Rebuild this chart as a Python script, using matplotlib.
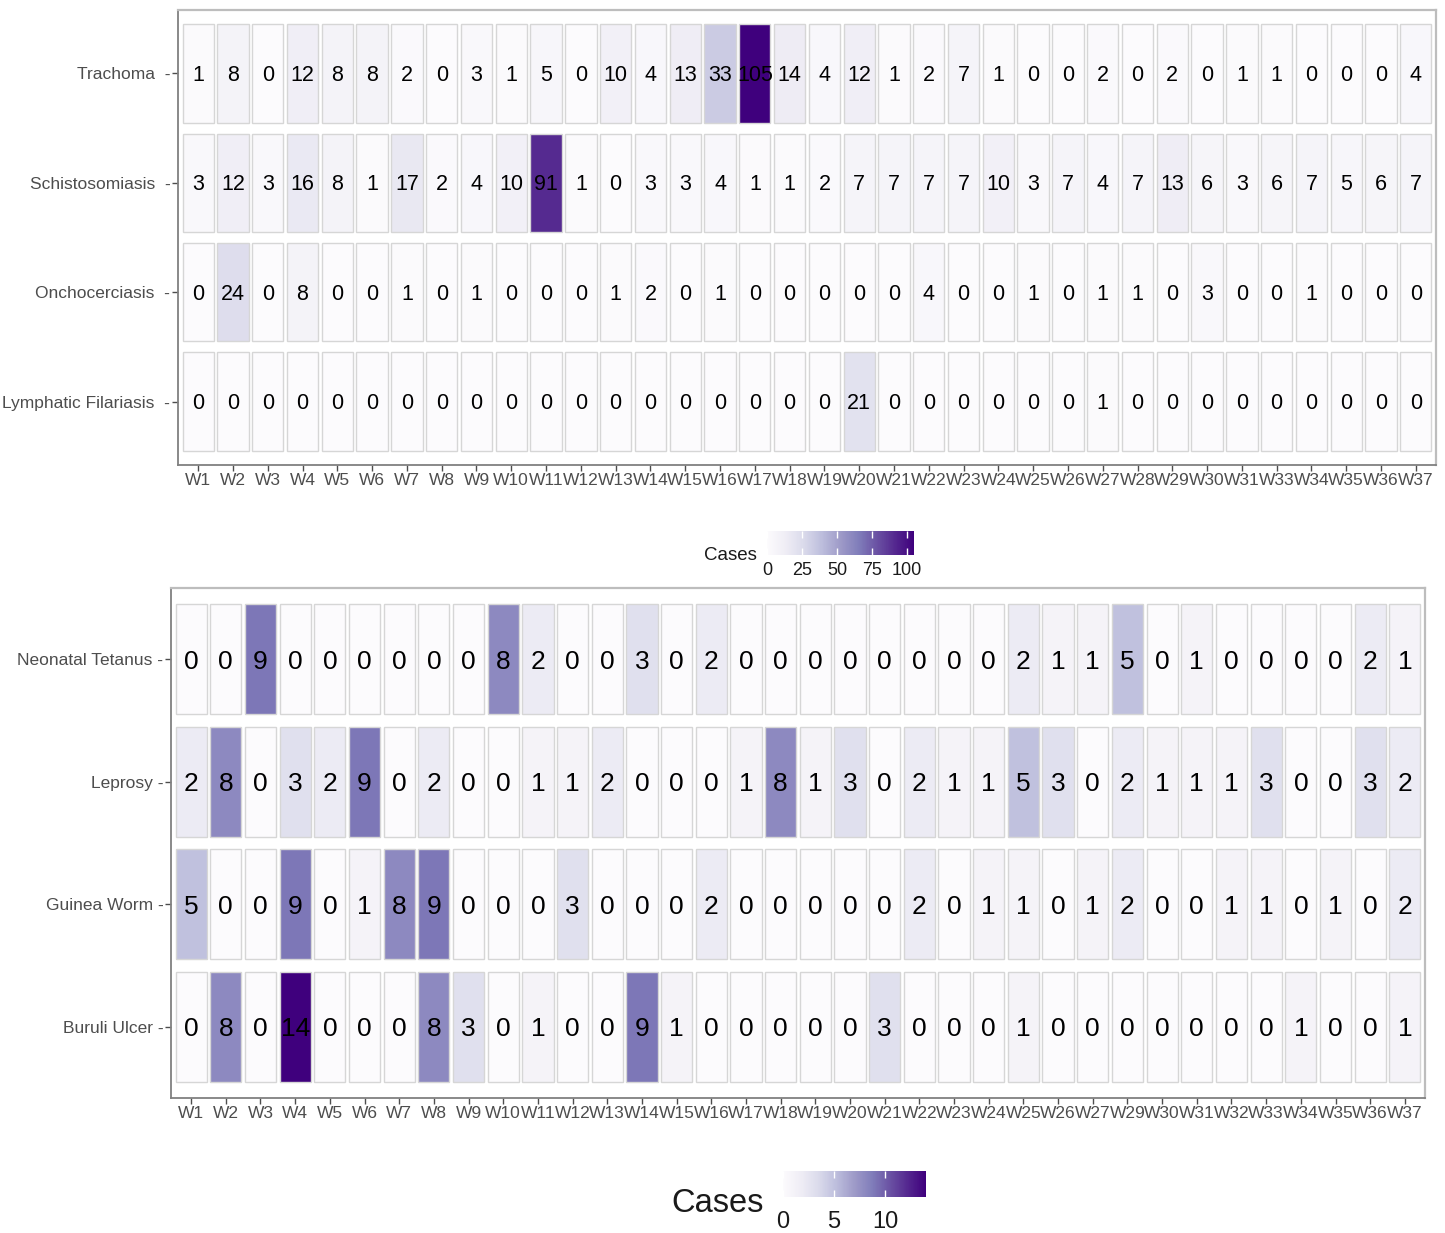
import numpy as np
import matplotlib
matplotlib.use('Agg')
from matplotlib import pyplot as plt
from matplotlib import cm, colors

plt.rcParams['font.family'] = ['Liberation Sans', 'DejaVu Sans']

# ---- data ----
weeks_top = ['W1', 'W2', 'W3', 'W4', 'W5', 'W6', 'W7', 'W8', 'W9', 'W10',
             'W11', 'W12', 'W13', 'W14', 'W15', 'W16', 'W17', 'W18', 'W19', 'W20',
             'W21', 'W22', 'W23', 'W24', 'W25', 'W26', 'W27', 'W28', 'W29', 'W30',
             'W31', 'W33', 'W34', 'W35', 'W36', 'W37']
diseases_top = ['Trachoma', 'Schistosomiasis', 'Onchocerciasis', 'Lymphatic Filariasis']
trachoma = [1, 8, 0, 12, 8, 8, 2, 0, 3, 1, 5, 0, 10, 4, 13, 33, 105, 14, 4, 12,
            1, 2, 7, 1, 0, 0, 2, 0, 2, 0, 1, 1, 0, 0, 0, 4]
schisto = [3, 12, 3, 16, 8, 1, 17, 2, 4, 10, 91, 1, 0, 3, 3, 4, 1, 1, 2, 7,
           7, 7, 7, 10, 3, 7, 4, 7, 13, 6, 3, 6, 7, 5, 6, 7]
oncho = [0, 24, 0, 8, 0, 0, 1, 0, 1, 0, 0, 0, 1, 2, 0, 1, 0, 0, 0, 0,
         0, 4, 0, 0, 1, 0, 1, 1, 0, 3, 0, 0, 1, 0, 0, 0]
lymph = [0, 0, 0, 0, 0, 0, 0, 0, 0, 0, 0, 0, 0, 0, 0, 0, 0, 0, 0, 21,
         0, 0, 0, 0, 0, 0, 1, 0, 0, 0, 0, 0, 0, 0, 0, 0]

weeks_bot = ['W1', 'W2', 'W3', 'W4', 'W5', 'W6', 'W7', 'W8', 'W9', 'W10',
             'W11', 'W12', 'W13', 'W14', 'W15', 'W16', 'W17', 'W18', 'W19', 'W20',
             'W21', 'W22', 'W23', 'W24', 'W25', 'W26', 'W27', 'W29', 'W30', 'W31',
             'W32', 'W33', 'W34', 'W35', 'W36', 'W37']
diseases_bot = ['Neonatal Tetanus', 'Leprosy', 'Guinea Worm', 'Buruli Ulcer']
tetanus = [0, 0, 9, 0, 0, 0, 0, 0, 0, 8, 2, 0, 0, 3, 0, 2, 0, 0, 0, 0,
           0, 0, 0, 0, 2, 1, 1, 5, 0, 1, 0, 0, 0, 0, 2, 1]
leprosy = [2, 8, 0, 3, 2, 9, 0, 2, 0, 0, 1, 1, 2, 0, 0, 0, 1, 8, 1, 3,
           0, 2, 1, 1, 5, 3, 0, 2, 1, 1, 1, 3, 0, 0, 3, 2]
guinea = [5, 0, 0, 9, 0, 1, 8, 9, 0, 0, 0, 3, 0, 0, 0, 2, 0, 0, 0, 0,
          0, 2, 0, 1, 1, 0, 1, 2, 0, 0, 1, 1, 0, 1, 0, 2]
buruli = [0, 8, 0, 14, 0, 0, 0, 8, 3, 0, 1, 0, 0, 9, 1, 0, 0, 0, 0, 0,
          3, 0, 0, 0, 1, 0, 0, 0, 0, 0, 0, 0, 1, 0, 0, 1]

cbar_ticks_top = [0, 25, 50, 75, 100]
cbar_ticks_bot = [0, 5, 10]

cmap = plt.get_cmap('Purples')
W, H = 1445, 1233


def fig_rect(x0, y0, x1, y1):
  # pixel box -> figure fraction
  return [x0 / W, 1 - y1 / H, (x1 - x0) / W, (y1 - y0) / H]


def draw_panel(ax, weeks, diseases, rows, norm, numsize, sep):
  x = np.arange(1, len(weeks) + 1)
  for i, vals in enumerate(rows):
    y = i + 1
    vals = np.array(vals)
    ax.bar(x, 0.9, width=0.9, bottom=y - 0.45, color=cmap(norm(vals)),
           edgecolor='#d6d6d6', linewidth=1.0)
    for xi, v in zip(x, vals):
      ax.text(xi, y + 0.02, str(v), ha='center', va='center', fontsize=numsize, color='black')
  ax.set_xlim(0.42, len(weeks) + 0.58)
  ax.set_ylim(len(diseases) + 0.58, 0.42)
  ax.set_xticks(x)
  ax.set_xticklabels(weeks)
  ax.set_yticks(np.arange(1, len(diseases) + 1))
  ax.set_yticklabels([d + sep + '-' for d in diseases])
  ax.tick_params(axis='both', colors='#4d4d4d', labelcolor='#4d4d4d', length=4, width=1,
                 labelsize=12.5, pad=1.5)
  for s in ['top', 'right']:
    ax.spines[s].set_color('#bdbdbd')
    ax.spines[s].set_linewidth(1.6)
  for s in ['left', 'bottom']:
    ax.spines[s].set_color('#808080')
    ax.spines[s].set_linewidth(1.3)


def draw_cbar(fig, rect, norm, ticks, labelsize, pad, title, titlesize, title_xy):
  cax = fig.add_axes(rect)
  cb = fig.colorbar(cm.ScalarMappable(norm=norm, cmap=cmap), cax=cax,
                    orientation='horizontal', ticks=ticks)
  cb.outline.set_visible(False)
  cax.tick_params(axis='x', direction='in', color='white', length=5, width=1,
                  top=True, bottom=True, labelsize=labelsize, labelcolor='#1a1a1a', pad=pad)
  fig.text(title_xy[0] / W, 1 - title_xy[1] / H, title, ha='right', va='center',
           fontsize=titlesize, color='#1a1a1a')


fig = plt.figure(figsize=(W / 100, H / 100), dpi=100)

norm_top = colors.Normalize(vmin=0, vmax=max(trachoma + schisto + oncho + lymph))
ax_top = fig.add_axes(fig_rect(178, 10, 1436, 465))
draw_panel(ax_top, weeks_top, diseases_top, [trachoma, schisto, oncho, lymph],
           norm_top, 15.5, '  ')
draw_cbar(fig, fig_rect(767, 531, 914, 555), norm_top, cbar_ticks_top, 13, 5,
          'Cases', 13.5, (757, 555))

norm_bot = colors.Normalize(vmin=0, vmax=max(tetanus + leprosy + guinea + buruli))
ax_bot = fig.add_axes(fig_rect(171, 588, 1425, 1098))
draw_panel(ax_bot, weeks_bot, diseases_bot, [tetanus, leprosy, guinea, buruli],
           norm_bot, 19, ' ')
draw_cbar(fig, fig_rect(783, 1171, 926, 1197), norm_bot, cbar_ticks_bot, 17, 10,
          'Cases', 23.5, (764, 1204))

fig.savefig('out.png', dpi=100)
